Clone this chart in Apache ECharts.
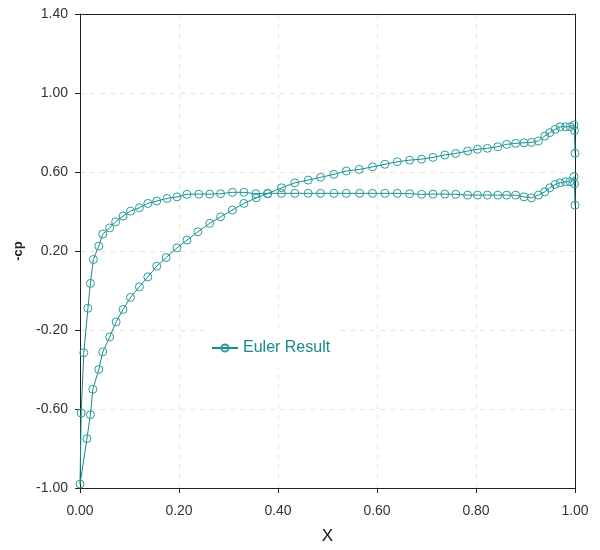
<!DOCTYPE html>
<html>
<head>
<meta charset="utf-8">
<script src="https://cdn.jsdelivr.net/npm/echarts@6/dist/echarts.min.js"></script>
<style>html,body{margin:0;padding:0;background:#fff;}#c{width:600px;height:550px;}</style>
</head>
<body>
<div id="c"></div>
<script>
// Curve A: flat branch (~0.49)
const curveAX = [0.000, 0.0024, 0.0077, 0.016, 0.021, 0.027, 0.038, 0.046, 0.060, 0.072, 0.087, 0.102, 0.120, 0.137, 0.155, 0.176, 0.196, 0.216, 0.240, 0.262, 0.284, 0.308, 0.331, 0.355, 0.379, 0.407, 0.434, 0.461, 0.486, 0.513, 0.538, 0.565, 0.591, 0.616, 0.641, 0.666, 0.690, 0.713, 0.737, 0.759, 0.783, 0.803, 0.823, 0.844, 0.862, 0.880, 0.897, 0.912, 0.926, 0.939, 0.949, 0.960, 0.970, 0.981, 0.990, 0.998, 0.999, 1.000];
const curveAY = [-0.98, -0.62, -0.315, -0.09, 0.036, 0.157, 0.225, 0.286, 0.317, 0.348, 0.377, 0.402, 0.419, 0.441, 0.453, 0.466, 0.474, 0.487, 0.488, 0.488, 0.490, 0.497, 0.497, 0.490, 0.492, 0.492, 0.492, 0.492, 0.492, 0.492, 0.492, 0.492, 0.492, 0.492, 0.492, 0.490, 0.487, 0.488, 0.488, 0.487, 0.483, 0.483, 0.483, 0.483, 0.483, 0.483, 0.474, 0.469, 0.483, 0.500, 0.520, 0.537, 0.545, 0.551, 0.551, 0.576, 0.540, 0.432];
// Curve B: rising branch (up to ~0.83)
const curveBX = [0.000, 0.014, 0.021, 0.026, 0.038, 0.046, 0.060, 0.073, 0.087, 0.102, 0.120, 0.137, 0.155, 0.174, 0.196, 0.216, 0.238, 0.262, 0.284, 0.308, 0.331, 0.356, 0.379, 0.407, 0.434, 0.461, 0.486, 0.513, 0.538, 0.564, 0.591, 0.616, 0.641, 0.666, 0.690, 0.713, 0.737, 0.759, 0.783, 0.803, 0.823, 0.844, 0.862, 0.880, 0.897, 0.912, 0.926, 0.939, 0.949, 0.960, 0.970, 0.981, 0.990, 0.998, 0.999, 1.000];
const curveBY = [-0.98, -0.75, -0.629, -0.50, -0.40, -0.311, -0.235, -0.159, -0.096, -0.035, 0.019, 0.069, 0.123, 0.167, 0.216, 0.255, 0.297, 0.340, 0.373, 0.407, 0.441, 0.469, 0.490, 0.520, 0.545, 0.559, 0.573, 0.588, 0.605, 0.613, 0.626, 0.639, 0.652, 0.660, 0.665, 0.674, 0.686, 0.694, 0.706, 0.715, 0.720, 0.728, 0.740, 0.745, 0.748, 0.750, 0.757, 0.782, 0.799, 0.816, 0.829, 0.829, 0.829, 0.838, 0.810, 0.695];
const xTicks = ['0.00', '0.20', '0.40', '0.60', '0.80', '1.00'];
const yTicks = ['-1.00', '-0.60', '-0.20', '0.20', '0.60', '1.00', '1.40'];
const seriesName = 'Euler Result';

// one polyline: B trailing edge -> leading edge -> A trailing edge
const pts = [];
for (let i = curveBX.length - 1; i >= 1; i--) pts.push([curveBX[i], curveBY[i]]);
for (let i = 0; i < curveAX.length; i++) pts.push([curveAX[i], curveAY[i]]);

const teal = '#168b8b';
const font = 'Liberation Sans, Arial, sans-serif';
const axisCol = '#222';
const split = {show: true, showMinLine: false, showMaxLine: false, lineStyle: {color: '#ebe7cc', type: [5, 5], width: 1}};
const chart = echarts.init(document.getElementById('c'), null, {renderer: 'canvas'});
chart.setOption({
  backgroundColor: '#fff',
  animation: false,
  grid: {left: 80, right: 25, top: 14, bottom: 62, containLabel: false, outerBoundsMode: 'none'},
  legend: {
    data: [seriesName], left: 205, top: 328, padding: [12, 10, 12, 6],
    backgroundColor: '#fff', itemWidth: 26, itemHeight: 9, itemGap: 10,
    textStyle: {color: teal, fontSize: 16, fontFamily: font}
  },
  xAxis: [{
    type: 'value', min: 0, max: 1, interval: 0.2, position: 'bottom',
    name: 'X', nameLocation: 'middle', nameGap: 40,
    nameTextStyle: {fontSize: 17, color: '#111', fontFamily: font},
    axisLine: {show: true, onZero: false, lineStyle: {color: axisCol, width: 1}},
    axisTick: {show: true, length: 5, lineStyle: {color: axisCol}},
    axisLabel: {color: '#333', fontSize: 14, fontFamily: font, margin: 16,
      formatter: v => xTicks[Math.round(v / 0.2)] || ''},
    splitLine: split
  }, {
    type: 'value', min: 0, max: 1, position: 'top',
    axisLine: {show: true, onZero: false, lineStyle: {color: axisCol, width: 1}},
    axisTick: {show: false}, axisLabel: {show: false}, splitLine: {show: false}
  }],
  yAxis: [{
    type: 'value', min: -1, max: 1.4, interval: 0.4, position: 'left',
    name: '-cp', nameLocation: 'middle', nameGap: 55, nameRotate: 90,
    nameTextStyle: {fontSize: 13, fontWeight: 'bold', color: '#222', fontFamily: font},
    axisLine: {show: true, onZero: false, lineStyle: {color: axisCol, width: 1}},
    axisTick: {show: true, length: 5, lineStyle: {color: axisCol}},
    axisLabel: {color: '#333', fontSize: 14, fontFamily: font, margin: 12,
      formatter: v => yTicks[Math.round((v + 1) / 0.4)] || ''},
    splitLine: split
  }, {
    type: 'value', min: -1, max: 1.4, position: 'right',
    axisLine: {show: true, onZero: false, lineStyle: {color: axisCol, width: 1}},
    axisTick: {show: false}, axisLabel: {show: false}, splitLine: {show: false}
  }],
  series: [{
    name: seriesName, type: 'line', data: pts, xAxisIndex: 0, yAxisIndex: 0,
    symbol: 'circle', symbolSize: 8, showAllSymbol: true,
    lineStyle: {color: teal, width: 1},
    itemStyle: {color: 'rgba(255,255,255,0)', borderColor: '#2a9c9c', borderWidth: 1},
    emphasis: {disabled: true}
  }]
});
</script>
</body>
</html>
